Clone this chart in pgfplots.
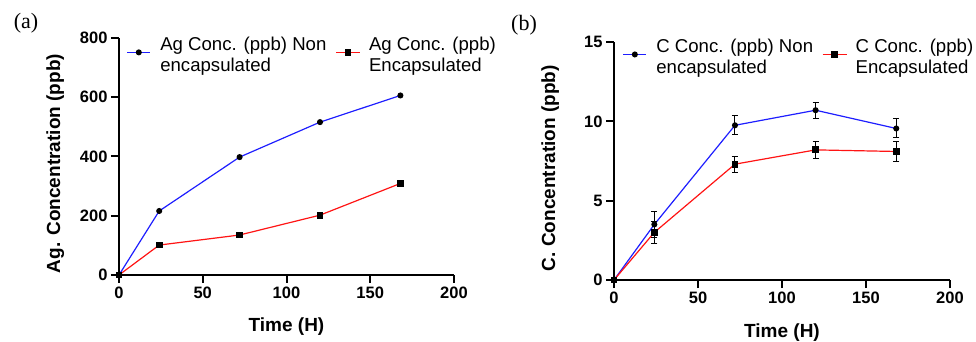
\documentclass[border=0pt]{standalone}
\usepackage{pgfplots}
\pgfplotsset{compat=1.18}
\usepackage{fontspec}
\setmainfont{Liberation Sans}
\newfontfamily\serifpanel{Liberation Serif}
\definecolor{cblue}{RGB}{30,30,255}
\definecolor{cred}{RGB}{255,20,20}
\newcommand\legtext[2]{{\fontsize{18.6}{21}\selectfont\begin{tabular}{@{}l@{}}#1\\#2\end{tabular}}}
\begin{document}
\begin{tikzpicture}
\useasboundingbox (0pt,0pt) rectangle (976pt,342pt);
\pgfplotsset{
  myax/.style={
    scale only axis, clip=false,
    axis x line*=bottom, axis y line*=left,
    axis line style={line width=2pt, -},
    tick style={line width=2pt, black},
    tick align=outside, major tick length=8pt,
    xmin=0, xmax=200, xtick={0,50,100,150,200},
    /pgf/number format/assume math mode=true,
    ticklabel style={font=\fontsize{16.5}{18}\selectfont\bfseries},
    label style={font=\fontsize{19}{22}\selectfont\bfseries},
    xlabel={Time (H)},
    xlabel style={at={(axis description cs:0.5,-0.219)}, anchor=center},
    ylabel style={at={(axis description cs:-0.19,0.47)}, anchor=center},
    legend columns=2, legend cell align=left,
    legend style={draw=none, fill=none, inner sep=0pt, outer sep=0pt,
      anchor=north west,
      cells={inner xsep=0pt},
      /tikz/every even column/.append style={column sep=7pt}},
  },
  bser/.style={color=cblue, line width=1.2pt, mark=*, mark size=2.4pt, mark options={black, fill=black},
    legend image code/.code={%
      \path[draw=none,fill=none] (0pt,-10pt) rectangle (31pt,4pt);
      \draw[mark repeat=2,mark phase=2] plot coordinates {(0pt,-3pt)(11.5pt,-3pt)(23pt,-3pt)};}},
  rser/.style={color=cred, line width=1.2pt, mark=square*, mark size=2.8pt, mark options={black, fill=black},
    legend image code/.code={%
      \path[draw=none,fill=none] (0pt,-10pt) rectangle (31pt,4pt);
      \draw[mark repeat=2,mark phase=2] plot coordinates {(0pt,-3pt)(12pt,-3pt)(24pt,-3pt)};}},
  ebar/.style={error bars/.cd, y dir=both, y explicit,
      error bar style={black, line width=1pt},
      error mark options={rotate=90, mark size=3pt, black, line width=1pt}},
}
% Panel (a)
\begin{axis}[myax, at={(119pt,67pt)}, anchor=south west,
  width=335pt, height=237pt,
  ymin=0, ymax=800, ytick={0,200,400,600,800},
  ylabel={Ag. Concentration (ppb)},
  legend style={at={(axis description cs:0.023,1.017)}}]
\addplot[bser] coordinates {(0,0) (24,216) (72,398) (120,516) (168,606)};
\addlegendentry{\legtext{Ag Conc. (ppb) Non}{encapsulated}}
\addplot[rser] coordinates {(0,0) (24,101) (72,135) (120,202) (168,309)};
\addlegendentry{\legtext{Ag Conc. (ppb)}{Encapsulated}}
\end{axis}
% Panel (b)
\begin{axis}[myax, at={(614pt,62pt)}, anchor=south west,
  width=336pt, height=238pt,
  ymin=0, ymax=15, ytick={0,5,10,15},
  ylabel={C. Concentration (ppb)},
  legend style={at={(axis description cs:0.026,1.025)}}]
\addplot[bser, ebar] coordinates {(0,0) +- (0,0) (24,3.5) +- (0,0.8) (72,9.75) +- (0,0.6) (120,10.7) +- (0,0.5) (168,9.55) +- (0,0.6)};
\addlegendentry{\legtext{C Conc. (ppb) Non}{encapsulated}}
\addplot[rser, ebar] coordinates {(0,0) +- (0,0) (24,3.0) +- (0,0.7) (72,7.3) +- (0,0.5) (120,8.2) +- (0,0.55) (168,8.1) +- (0,0.65)};
\addlegendentry{\legtext{C Conc. (ppb)}{Encapsulated}}
\end{axis}
\node[font=\serifpanel\fontsize{22}{24}\selectfont] at (26pt,319pt) {(a)};
\node[font=\serifpanel\fontsize{22}{24}\selectfont] at (524pt,317pt) {(b)};
\end{tikzpicture}
\end{document}
